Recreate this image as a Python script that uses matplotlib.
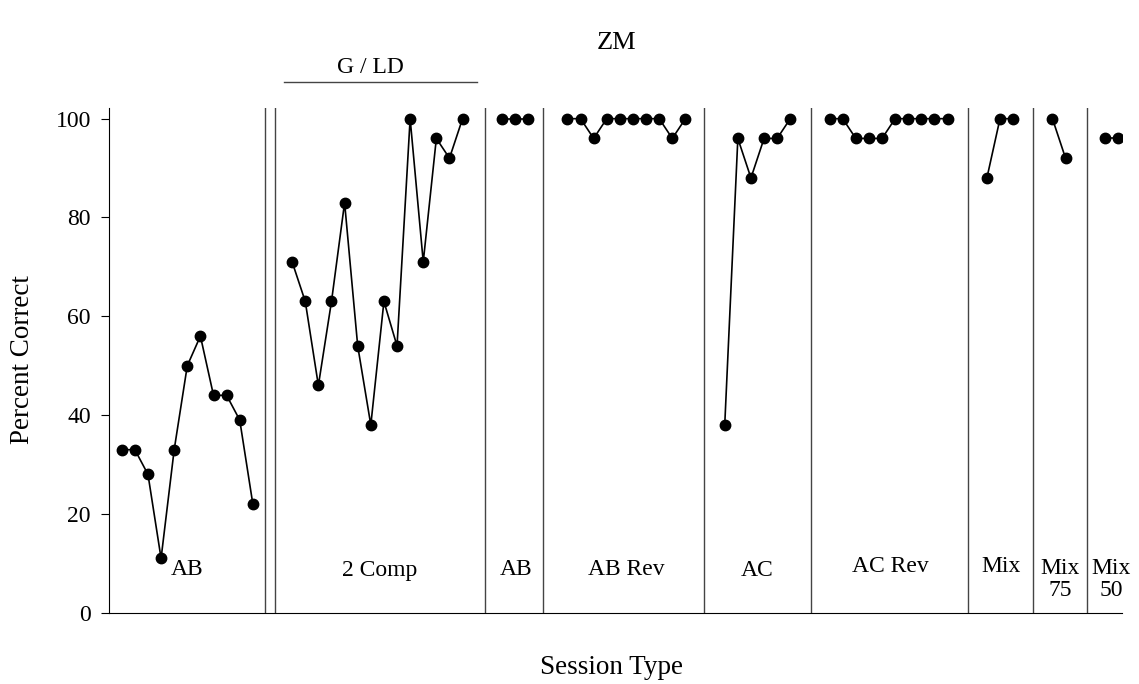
import numpy as np
import matplotlib
matplotlib.use('Agg')
import matplotlib.pyplot as plt

plt.rcParams['font.family'] = ['Liberation Serif', 'DejaVu Serif']

# percent correct per session, grouped by phase
ab1 = [33, 33, 28, 11, 33, 50, 56, 44, 44, 39, 22]
comp2 = [71, 63, 46, 63, 83, 54, 38, 63, 54, 100, 71, 96, 92, 100]
ab2 = [100, 100, 100]
ab_rev = [100, 100, 96, 100, 100, 100, 100, 100, 96, 100]
ac = [38, 96, 88, 96, 96, 100]
ac_rev = [100, 100, 96, 96, 96, 100, 100, 100, 100, 100]
mix = [88, 100, 100]
mix75 = [100, 92]
mix50 = [96, 96]

phases = [ab1, comp2, ab2, ab_rev, ac, ac_rev, mix, mix75, mix50]
phase_start = [0, 13, 29, 34, 46, 54, 66, 71, 75]
phase_names = ['AB', '2 Comp', 'AB', 'AB Rev', 'AC', 'AC Rev', 'Mix', 'Mix\n75', 'Mix\n50']
label_x = [5.0, 19.7, 30.1, 38.5, 48.5, 58.6, 67.1, 71.6, 75.5]
label_y = [8.7, 8.5, 8.8, 8.8, 8.5, 9.3, 9.3, 6.8, 6.8]
phase_lines = [10.95, 11.71, 27.69, 32.14, 44.4, 52.55, 64.58, 69.5, 73.66]

fig = plt.figure(figsize=(11.39, 6.84), dpi=100)
ax = fig.add_axes([0.0955, 0.1042, 0.8895, 0.7382])

for vals, start in zip(phases, phase_start):
    x = start + np.arange(len(vals))
    ax.plot(x, vals, color='black', lw=1.2, marker='o', markersize=7.5)

for xl in phase_lines:
    ax.axvline(xl, color='#444444', lw=1)

for name, lx, ly in zip(phase_names, label_x, label_y):
    ax.text(lx, ly, name, ha='center', va='center', fontsize=17, linespacing=1.05)

# G / LD bracket over the 2 Comp phase
ax.plot([12.4, 27.1], [107.4, 107.4], color='#444444', lw=1, clip_on=False)
ax.text(19.0, 110.4, 'G / LD', ha='center', va='center', fontsize=17)

ax.set_xlim(-0.99, 76.3)
ax.set_ylim(0, 102.2)
ax.set_yticks([0, 20, 40, 60, 80, 100])
ax.set_xticks([])
ax.tick_params(axis='y', direction='out', length=5.8, pad=7, labelsize=17)
ax.spines['top'].set_visible(False)
ax.spines['right'].set_visible(False)

fig.text(616 / 1139, 1 - 43 / 684, 'ZM', ha='center', va='center', fontsize=19)
fig.text(612 / 1139, 1 - 667 / 684, 'Session Type', ha='center', va='center', fontsize=19.5)
fig.text(23 / 1139, 1 - 360 / 684, 'Percent Correct', ha='center', va='center',
         rotation=90, fontsize=19.5)

plt.savefig('out.png', dpi=100)
